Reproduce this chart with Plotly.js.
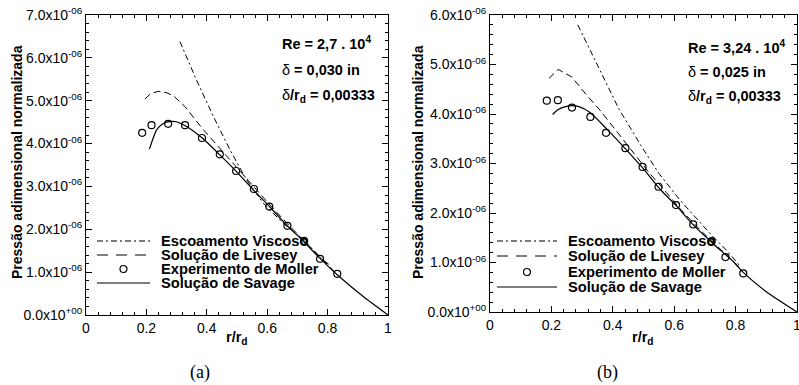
<!DOCTYPE html>
<html>
<head>
<meta charset="utf-8">
<script src="https://cdn.plot.ly/plotly-3.0.1.min.js"></script>
<style>html,body{margin:0;padding:0;background:#fff;}#chart{width:799px;height:385px;}</style>
</head>
<body>
<div id="chart"></div>
<script>
// ---- Data (pressure values in units of 1e-6) ----
// Panel (a)
const viscA_x = [0.311, 0.366, 0.422, 0.477, 0.532, 0.587, 0.653, 0.72, 0.786, 0.81];
const viscA_y = [6.38, 5.48, 4.63, 3.85, 3.15, 2.61, 2.14, 1.75, 1.28, 1.15];
const liveA_x = [0.195, 0.215, 0.24, 0.265, 0.289, 0.328, 0.384, 0.438, 0.494, 0.554, 0.61, 0.667, 0.722, 0.775, 0.82];
const liveA_y = [5.04, 5.17, 5.22, 5.19, 5.12, 4.86, 4.36, 3.93, 3.46, 2.99, 2.56, 2.13, 1.74, 1.35, 1.03];
const mollA_x = [0.186, 0.217, 0.272, 0.328, 0.384, 0.443, 0.497, 0.556, 0.607, 0.667, 0.722, 0.775, 0.832];
const mollA_y = [4.25, 4.43, 4.46, 4.43, 4.13, 3.75, 3.36, 2.94, 2.53, 2.08, 1.73, 1.31, 0.96];
const savA_x = [0.21, 0.222, 0.234, 0.25, 0.267, 0.285, 0.30, 0.333, 0.383, 0.444, 0.499, 0.554, 0.609, 0.664, 0.72, 0.775, 0.83, 0.918, 1.0];
const savA_y = [3.87, 4.12, 4.32, 4.44, 4.50, 4.52, 4.51, 4.40, 4.14, 3.73, 3.34, 2.92, 2.52, 2.10, 1.72, 1.32, 0.95, 0.43, 0.0];
// Panel (b)
const viscB_x = [0.286, 0.35, 0.42, 0.49, 0.55, 0.619, 0.68, 0.722, 0.77, 0.814];
const viscB_y = [5.80, 5.00, 4.10, 3.38, 2.80, 2.26, 1.85, 1.55, 1.25, 0.93];
const liveB_x = [0.192, 0.222, 0.266, 0.315, 0.358, 0.413, 0.464, 0.52, 0.574, 0.62, 0.684, 0.74, 0.79, 0.82];
const liveB_y = [4.72, 4.90, 4.75, 4.38, 4.08, 3.64, 3.24, 2.80, 2.42, 2.08, 1.66, 1.33, 1.04, 0.86];
const mollB_x = [0.185, 0.221, 0.267, 0.327, 0.378, 0.441, 0.497, 0.549, 0.606, 0.662, 0.722, 0.767, 0.825];
const mollB_y = [4.27, 4.28, 4.13, 3.94, 3.62, 3.31, 2.93, 2.53, 2.16, 1.77, 1.43, 1.11, 0.78];
const savB_x = [0.204, 0.22, 0.24, 0.266, 0.29, 0.326, 0.38, 0.445, 0.50, 0.554, 0.608, 0.662, 0.727, 0.792, 0.825, 0.9, 1.0];
const savB_y = [3.99, 4.08, 4.14, 4.17, 4.15, 4.03, 3.70, 3.27, 2.89, 2.48, 2.14, 1.76, 1.38, 1.02, 0.80, 0.41, 0.0];

const seriesNames = ["Escoamento Viscoso", "Solução de Livesey", "Experimento de Moller", "Solução de Savage"];
const xTickVals = [0, 0.2, 0.4, 0.6, 0.8, 1];
const xTickText = ["0", "0.2", "0.4", "0.6", "0.8", "1"];
const yTickValsA = [0, 1, 2, 3, 4, 5, 6, 7];
const yTickValsB = [0, 1, 2, 3, 4, 5, 6];
const yTickTextA = ["0.0x10<sup>+00</sup>", "1.0x10<sup>-06</sup>", "2.0x10<sup>-06</sup>", "3.0x10<sup>-06</sup>", "4.0x10<sup>-06</sup>", "5.0x10<sup>-06</sup>", "6.0x10<sup>-06</sup>", "7.0x10<sup>-06</sup>"];
const yTickTextB = yTickTextA.slice(0, 7);
const infoA = ["<b>Re = 2,7 . 10<sup>4</sup></b>", "δ <b>= 0,030 in</b>", "δ<b>/r<sub>d</sub> = 0,00333</b>"];
const infoB = ["<b>Re = 3,24 . 10<sup>4</sup></b>", "δ <b>= 0,025 in</b>", "δ<b>/r<sub>d</sub> = 0,00333</b>"];
const yTitle = "Pressão adimensional normalizada";
const xTitle = "r/r<sub>d</sub>";
const captions = ["(a)", "(b)"];

// ---- Styles ----
const W = 799, H = 385;
const FONT = "Liberation Sans, Arial, sans-serif";
const dashVisc = "6px,3px,2px,3px";
const dashLive = "7px,4px";
const px = v => v / W;
const py = v => 1 - v / H;

function panelTraces(xa, ya, vx, vy, lx, ly, mx, my, sx, sy) {
  return [
    {x: vx, y: vy, xaxis: xa, yaxis: ya, mode: "lines", name: seriesNames[0], showlegend: false,
     line: {color: "#000", width: 1, dash: dashVisc}},
    {x: lx, y: ly, xaxis: xa, yaxis: ya, mode: "lines", name: seriesNames[1], showlegend: false,
     line: {color: "#000", width: 1, dash: dashLive}},
    {x: mx, y: my, xaxis: xa, yaxis: ya, mode: "markers", name: seriesNames[2], showlegend: false,
     marker: {symbol: "circle-open", size: 7, color: "#000", line: {width: 1.2, color: "#000"}}},
    {x: sx, y: sy, xaxis: xa, yaxis: ya, mode: "lines", name: seriesNames[3], showlegend: false,
     line: {color: "#000", width: 1.2, shape: "spline", smoothing: 0.6}}
  ];
}

const traces = [].concat(
  panelTraces("x", "y", viscA_x, viscA_y, liveA_x, liveA_y, mollA_x, mollA_y, savA_x, savA_y),
  panelTraces("x2", "y2", viscB_x, viscB_y, liveB_x, liveB_y, mollB_x, mollB_y, savB_x, savB_y)
);

function xAxis(domain, anchor) {
  return {domain: domain, anchor: anchor, range: [0, 1], tickmode: "array", tickvals: xTickVals, ticktext: xTickText,
    ticklabeloverflow: "allow",
    ticks: "inside", ticklen: 6, tickwidth: 1, tickcolor: "#000", mirror: "allticks",
    showline: true, linecolor: "#000", linewidth: 1, showgrid: false, zeroline: false,
    minor: {tickmode: "linear", tick0: 0, dtick: 0.04, ticks: "inside", ticklen: 3, tickcolor: "#000", showgrid: false},
    tickfont: {family: FONT, size: 14, color: "#000"}};
}
function yAxis(domain, anchor, maxv, vals, text) {
  return {domain: domain, anchor: anchor, range: [0, maxv], tickmode: "array", tickvals: vals, ticktext: text,
    ticklabeloverflow: "allow",
    ticks: "inside", ticklen: 6, tickwidth: 1, tickcolor: "#000", mirror: "allticks",
    showline: true, linecolor: "#000", linewidth: 1, showgrid: false, zeroline: false,
    minor: {tickmode: "linear", tick0: 0, dtick: 0.2, ticks: "inside", ticklen: 3, tickcolor: "#000", showgrid: false},
    tickfont: {family: FONT, size: 14, color: "#000"}};
}

const annotations = [];
const shapes = [];
function addPanelText(cfg) {
  annotations.push({xref: "paper", yref: "paper", x: px(cfg.ytx), y: py(162), text: "<b>" + yTitle + "</b>",
    textangle: -90, showarrow: false, xanchor: "center", yanchor: "middle", font: {family: FONT, size: 14, color: "#000"}});
  annotations.push({xref: "paper", yref: "paper", x: px(cfg.xtx), y: py(338), text: "<b>" + xTitle + "</b>",
    showarrow: false, xanchor: "center", yanchor: "middle", font: {family: FONT, size: 14.5, color: "#000"}});
  annotations.push({xref: "paper", yref: "paper", x: px(cfg.capx), y: py(372), text: cfg.cap,
    showarrow: false, xanchor: "center", yanchor: "middle", font: {family: "Liberation Serif, Times New Roman, serif", size: 18, color: "#000"}});
  cfg.info.forEach((t, i) => {
    annotations.push({xref: "paper", yref: "paper", x: px(cfg.infox), y: py(cfg.infoy[i]), text: t,
      showarrow: false, xanchor: "left", yanchor: "middle", font: {family: FONT, size: 14.5, color: "#000"}});
  });
  // legend
  seriesNames.forEach((n, i) => {
    const yy = py(cfg.legy[i]);
    annotations.push({xref: "paper", yref: "paper", x: px(cfg.legtx), y: yy, text: "<b>" + n + "</b>",
      showarrow: false, xanchor: "left", yanchor: "middle", borderpad: 0,
      font: {family: FONT, size: 14.7, color: "#000"}});
    if (i === 2) {
      const cx = (cfg.legx0 + cfg.legx1) / 2;
      shapes.push({type: "circle", xref: "paper", yref: "paper", x0: px(cx - 3.5), x1: px(cx + 3.5),
        y0: py(cfg.legy[i] + 3.5), y1: py(cfg.legy[i] - 3.5), line: {color: "#000", width: 1.2}});
    } else {
      const d = i === 0 ? dashVisc : (i === 1 ? "11px,8px" : "solid");
      shapes.push({type: "line", xref: "paper", yref: "paper", x0: px(cfg.legx0), x1: px(cfg.legx1),
        y0: yy, y1: yy, line: {color: "#000", width: i === 3 ? 1.2 : 1, dash: d}});
    }
  });
}
addPanelText({ytx: 17, xtx: 237, capx: 200, cap: captions[0], info: infoA, infox: 280, infoy: [43, 70, 96],
  legx0: 97, legx1: 150, legtx: 160, legy: [241, 255, 269, 283]});
addPanelText({ytx: 418, xtx: 643, capx: 607, cap: captions[1], info: infoB, infox: 686, infoy: [47, 72, 97],
  legx0: 497, legx1: 557, legtx: 567, legy: [241, 256, 272, 287]});

const layout = {
  width: W, height: H, margin: {l: 0, r: 0, t: 0, b: 0},
  paper_bgcolor: "#fff", plot_bgcolor: "#fff", showlegend: false,
  xaxis: xAxis([86 / W, 388 / W], "y"),
  yaxis: yAxis([(H - 315) / H, (H - 15) / H], "x", 7, yTickValsA, yTickTextA),
  xaxis2: xAxis([490 / W, 797 / W], "y2"),
  yaxis2: yAxis([(H - 312) / H, (H - 15) / H], "x2", 6, yTickValsB, yTickTextB),
  annotations: annotations, shapes: shapes
};

Plotly.newPlot("chart", traces, layout, {displayModeBar: false, staticPlot: true});
</script>
</body>
</html>
